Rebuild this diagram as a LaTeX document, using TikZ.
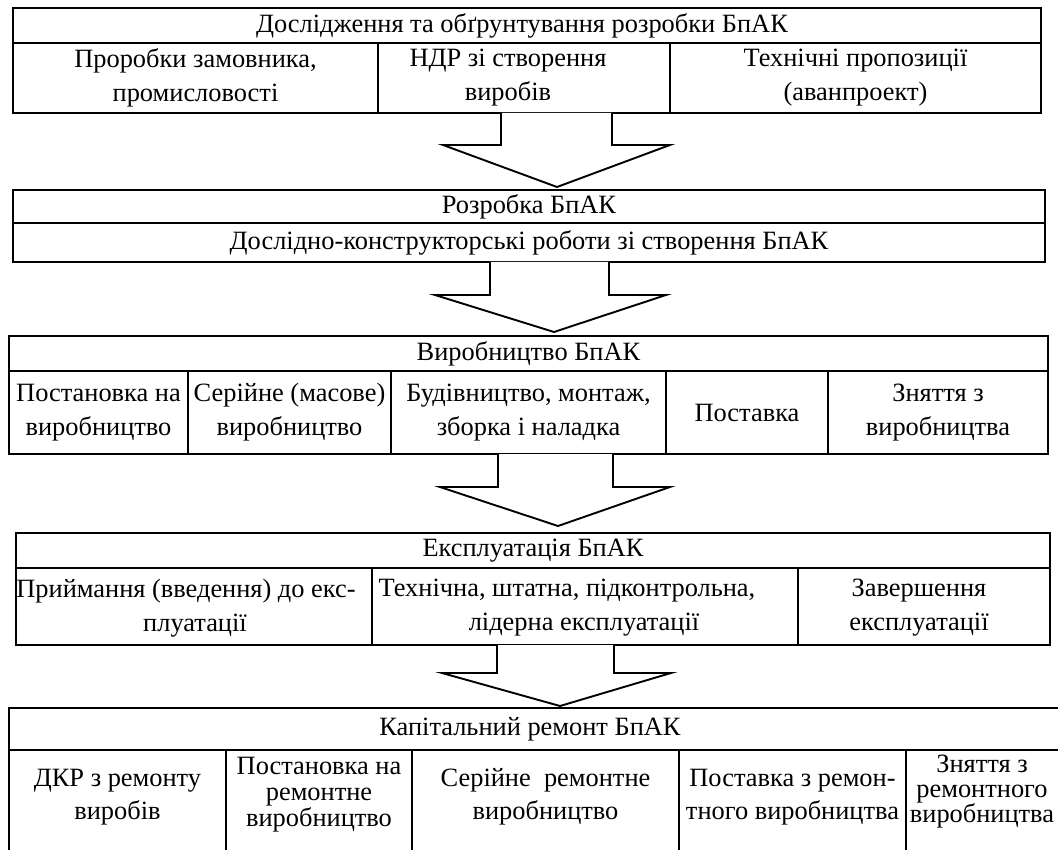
\documentclass[tikz,border=0pt]{standalone}
\usepackage{fontspec}
\setmainfont{Liberation Serif}
\begin{document}
\begin{tikzpicture}[x=1pt,y=-1pt,
  cell/.style={draw, line width=1.9pt, inner sep=0pt, align=center, font=\fontsize{26.4}{34}\selectfont},
  txt/.style={inner sep=0pt, align=center, font=\fontsize{26.4}{34}\selectfont},
  tight/.style={font=\fontsize{26.4}{26}\selectfont},
  blockarrow/.style={draw, line width=1.9pt, line join=miter, fill=white}]
\useasboundingbox (0,0) rectangle (1058,850);
\clip (0,0) rectangle (1058,850);
% Block 1
\node[cell, minimum width=1028pt, minimum height=35pt] (b1) at (527,25.5) {};
\node[txt] (t1) at (522,25.5) {Дослідження та обґрунтування розробки БпАК};
\node[cell, minimum width=365pt, minimum height=70pt] (b1a) at (195.5,78) {Проробки замовника,\\промисловості};
\node[cell, minimum width=292pt, minimum height=70pt] (b1b) at (524,78) {};
\node[txt] (t1b) at (508,78) {НДР зі створення\\виробів};
\node[cell, minimum width=371pt, minimum height=70pt] (b1c) at (855.5,78) {Технічні пропозиції\\(аванпроект)};
% Block 2
\node[cell, minimum width=1032pt, minimum height=33pt] (b2) at (529,206.5) {Розробка БпАК};
\node[cell, minimum width=1032pt, minimum height=39pt] (b2a) at (529,242.5) {Дослідно-конструкторські роботи зі створення БпАК};
% Block 3
\node[cell, minimum width=1039pt, minimum height=35pt] (b3) at (528.5,353.5) {Виробництво БпАК};
\node[cell, minimum width=179pt, minimum height=83pt] (b3a) at (98.5,412.5) {Постановка на\\виробництво};
\node[cell, minimum width=203pt, minimum height=83pt] (b3b) at (289.5,412.5) {Серійне (масове)\\виробництво};
\node[cell, minimum width=275pt, minimum height=83pt] (b3c) at (528.5,412.5) {Будівництво, монтаж,\\зборка і наладка};
\node[cell, minimum width=162pt, minimum height=83pt] (b3d) at (747,412.5) {Поставка};
\node[cell, minimum width=220pt, minimum height=83pt] (b3e) at (938,412.5) {Зняття з\\виробництва};
% Block 4
\node[cell, minimum width=1034pt, minimum height=35pt] (b4) at (533,550.5) {Експлуатація БпАК};
\node[cell, minimum width=356pt, minimum height=77pt] (b4a) at (194,606.5) {};
\node[cell, minimum width=426pt, minimum height=77pt] (b4b) at (585,606.5) {};
\node[cell, minimum width=252pt, minimum height=77pt] (b4c) at (924,606.5) {};
\node[txt] (t4a) at (195,608) {Приймання (введення) до екс-\hspace*{18pt}\\плуатації};
\node[txt] (t4b) at (584,608) {Технічна, штатна, підконтрольна,\hspace*{34pt}\\лідерна експлуатації};
\node[txt] (t4c) at (919,608) {Завершення\\експлуатації};
% Block 5
\node[cell, minimum width=1071pt, minimum height=42pt] (b5) at (544.5,729) {};
\node[txt] (t5) at (530,729) {Капітальний ремонт БпАК};
\node[cell, minimum width=217pt, minimum height=150pt] (b5a) at (117.5,825) {};
\node[cell, minimum width=186pt, minimum height=150pt] (b5b) at (319,825) {};
\node[cell, minimum width=267pt, minimum height=150pt] (b5c) at (545.5,825) {};
\node[cell, minimum width=227pt, minimum height=150pt] (b5d) at (792.5,825) {};
\node[cell, minimum width=174pt, minimum height=150pt] (b5e) at (993,825) {};
\node[txt, font=\fontsize{26.4}{33}\selectfont] (t5a) at (117.5,797) {ДКР з ремонту\\виробів};
\node[txt, tight] (t5b) at (319,795) {Постановка на\\ремонтне\\виробництво};
\node[txt, font=\fontsize{26.4}{33}\selectfont] (t5c) at (545.5,797) {Серійне\ \ ремонтне\\виробництво};
\node[txt, font=\fontsize{26.4}{33}\selectfont] (t5d) at (792.5,797) {Поставка з ремон-\\тного виробництва};
\node[txt, font=\fontsize{26.4}{25}\selectfont] (t5e) at (982,792) {Зняття з\\ремонтного\\виробництва};
% Arrows
\draw[blockarrow] (501,113) -- (501,145) -- (443,145) -- (557,187) -- (670,145) -- (612,145) -- (612,113);
\draw[blockarrow] (490,262) -- (490,295) -- (435,295) -- (554,332) -- (666,295) -- (609,295) -- (609,262);
\draw[blockarrow] (498,454) -- (498,487) -- (440,487) -- (558,526) -- (670,487) -- (613,487) -- (613,454);
\draw[blockarrow] (497,645) -- (497,673) -- (442,673) -- (560,706) -- (671,673) -- (614,673) -- (614,645);
\end{tikzpicture}
\end{document}
